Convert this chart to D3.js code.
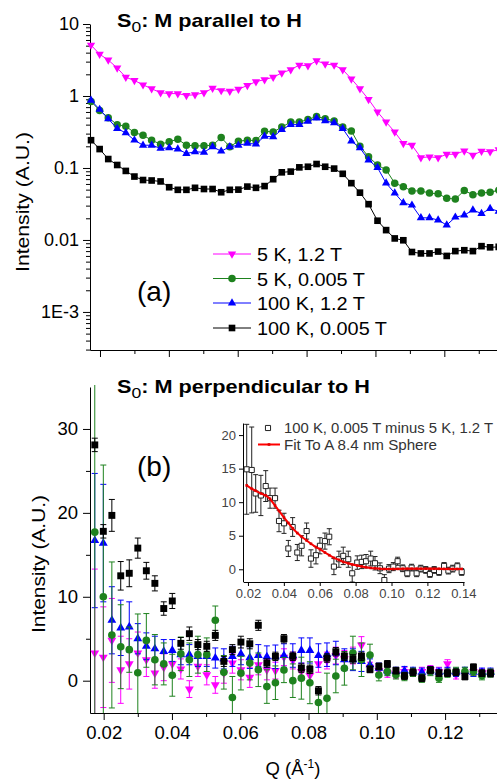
<!DOCTYPE html>
<html><head><meta charset="utf-8">
<script src="https://cdn.jsdelivr.net/npm/d3@7"></script>
<style>body{margin:0;background:#fff}svg{display:block}</style>
</head><body><svg id="c" width="497" height="780"></svg>
<script>
// ---------- DATA ----------
const Q = [0.0174,0.0199,0.0224,0.0250,0.0275,0.0300,0.0325,0.0350,0.0376,0.0401,0.0426,0.0451,0.0476,0.0502,0.0527,0.0552,
0.0577,0.0602,0.0628,0.0653,0.0678,0.0703,0.0728,0.0754,0.0779,0.0804,0.0829,0.0854,0.0880,0.0905,0.0930,0.0955,
0.0980,0.1006,0.1031,0.1056,0.1081,0.1106,0.1132,0.1157,0.1182,0.1207,0.1232,0.1258,0.1283,0.1308,0.1333,0.1358];

const seriesNames = ["5 K, 1.2 T","5 K, 0.005 T","100 K, 1.2 T","100 K, 0.005 T"];

// (a) parallel
const parMagenta = [5.1,3.8,3.16,2.45,1.82,1.64,1.43,1.26,1.11,1.08,1.08,1.02,1.04,1.11,1.28,1.19,
1.17,1.24,1.40,1.58,1.69,1.82,2.09,2.32,2.69,2.63,3.09,2.78,2.69,2.32,1.73,1.26,
0.895,0.60,0.435,0.316,0.219,0.207,0.139,0.143,0.139,0.155,0.155,0.173,0.151,0.171,0.168,0.18];
const parGreen = [0.84,0.63,0.50,0.40,0.38,0.31,0.285,0.243,0.214,0.231,0.251,0.207,0.203,0.203,0.207,0.265,
0.197,0.236,0.243,0.24,0.324,0.316,0.37,0.435,0.435,0.47,0.52,0.484,0.45,0.37,0.327,0.2,
0.143,0.11,0.094,0.0615,0.055,0.048,0.048,0.0448,0.0437,0.038,0.037,0.0486,0.0425,0.0448,0.046,0.049];
const parBlue = [0.87,0.65,0.48,0.352,0.307,0.243,0.207,0.207,0.187,0.19,0.183,0.159,0.168,0.165,0.197,0.171,
0.197,0.207,0.219,0.215,0.276,0.27,0.34,0.40,0.40,0.445,0.494,0.45,0.425,0.352,0.236,0.19,
0.129,0.101,0.0615,0.0448,0.0327,0.0304,0.0203,0.0203,0.0189,0.0161,0.0207,0.0221,0.026,0.0233,0.0272,0.025];
const parBlack = [0.243,0.183,0.133,0.11,0.091,0.076,0.068,0.067,0.065,0.054,0.0497,0.0497,0.053,0.051,0.051,0.046,
0.0497,0.05,0.0551,0.053,0.056,0.0698,0.087,0.089,0.102,0.104,0.1135,0.104,0.098,0.083,0.0615,0.0454,
0.0314,0.0185,0.0137,0.0105,0.0099,0.0068,0.0065,0.0065,0.0069,0.006,0.007,0.0072,0.007,0.0082,0.0079,0.008];

// (b) perpendicular: values and error bars
const perMagenta = [3.3,2.8,4.8,1.3,2.0,3.3,2.5,0.9,1.6,2.0,1.4,-1.0,1.7,0.7,-0.5,0.9,
2.1,1.3,0.4,1.9,1.3,1.2,2.8,2.4,1.1,0.6,2.0,2.4,3.0,2.6,3.0,4.25,
1.6,1.2,0.9,0.8,1.1,1.0,1.1,1.3,1.1,2.0,0.7,0.7,1.1,0.9,0.9];
const perMagentaErr = [10,6,5,4,3,2.5,2,1.8,1.6,1.5,1.2,1.0,1.2,1.2,1.0,1.2,
1.2,1.2,1.2,1.2,1.2,1.0,1.0,1.0,1.0,1.0,1.0,1.0,1.0,1.0,1.0,1.0,
0.6,0.5,0.5,0.5,0.5,0.5,0.5,0.5,0.5,0.5,0.5,0.5,0.5,0.5,0.5];
const perGreen = [17.7,10.0,5.45,4.05,3.7,0.95,4.8,2.5,2.0,0.65,3.2,2.5,3.1,3.1,7.2,1.0,
-2.0,0.9,2.1,1.3,-0.7,-0.24,1.27,0.0,0.3,-0.24,-2.6,-2.1,0.56,1.47,3.3,2.5,
3.05,0.68,1.1,0.7,0.5,1.0,0.3,1.1,0.3,0.9,1.1,1.1,1.1,0.6,0.9];
const perGreenErr = [30,15.7,8.7,5,2.7,7,3.2,3,2.5,2.5,2,2,2.2,2,1.7,2,
2.5,2,2,2,2,2,1.5,2,2.5,2.5,1.5,3,2,2,2,2,
1.3,0.7,0.5,0.5,0.5,0.5,0.5,0.5,0.5,0.5,0.5,0.5,0.5,0.5,0.5];
const perBlue = [16.7,16.4,7.2,6.3,6.4,5.0,4.1,3.8,3.5,3.6,3.1,3.1,2.9,2.9,2.7,2.6,
2.9,3.2,2.75,3.0,2.85,2.85,3.0,3.0,3.6,3.6,3.0,3.1,3.3,2.5,2.5,2.3,
1.9,1.5,1.2,1.1,1.2,1.1,1.0,1.2,1.0,1.1,1.0,1.1,1.0,1.0,1.0];
const perBlueErr = [8,7,4,3.3,3,1.8,1.6,1.5,1.4,1.3,1.2,1.2,1.2,1.2,1.2,1.2,
1.2,1.3,1.3,1.3,1.3,1.4,1.4,1.4,1.5,1.5,1.4,1.4,1.4,1.3,1.3,1.2,
0.7,0.6,0.5,0.5,0.5,0.5,0.5,0.5,0.5,0.5,0.5,0.5,0.5,0.5,0.5];
const perBlack = [28.1,17.8,19.7,12.5,12.8,15.8,13.1,11.6,8.6,9.5,4.45,5.6,4.3,4.1,5.4,2.3,
3.7,4.6,4.4,6.6,2.1,2.9,5.0,2.9,1.5,1.35,-1.2,2.7,3.45,2.9,2.6,2.9,
1.35,1.7,2.0,1.2,0.56,1.0,0.3,1.27,0.9,0.9,1.0,0.5,1.6,0.9,0.9];
const perBlackErr = [0.8,0.8,1.9,1.7,1.6,1.2,1.0,0.9,0.8,0.9,0.7,0.8,0.6,0.6,0.6,0.6,
0.6,0.7,0.6,0.6,0.5,0.5,0.5,0.5,0.5,0.5,0.5,0.5,0.5,0.5,0.5,0.5,
0.4,0.4,0.4,0.4,0.4,0.4,0.4,0.4,0.4,0.4,0.4,0.4,0.4,0.4,0.4];

// inset: difference and sphere fit
const insetQ = [0.0193,0.0221,0.0243,0.0272,0.0299,0.0323,0.0351,0.0373,0.0401,0.0425,0.0449,0.0475,0.0499,0.0527,0.0551,0.0579,
0.0601,0.0629,0.0653,0.0679,0.0707,0.0731,0.0759,0.0781,0.0809,0.0834,0.0858,0.0884,0.0908,0.0936,0.0960,0.0986,
0.1010,0.1034,0.1062,0.1088,0.1112,0.1140,0.1163,0.1191,0.1214,0.1238,0.1265,0.1293,0.1317,0.1341,0.1367,0.1391];
const insetDiff = [14.9,14.8,11.3,11.0,12.4,10.6,10.6,7.2,6.85,3.1,6.3,2.5,3.5,5.7,1.6,2.1,
3.5,4.2,4.85,0.4,1.5,2.0,1.5,-0.6,1.0,1.1,1.2,1.6,0.9,0.15,-1.6,0.1,
0.4,1.2,0.15,-0.6,0.25,-0.6,0.1,-0.1,-0.7,-0.1,-0.4,0.5,-0.2,0.1,0.45,-0.4];
const insetDiffErr = [6.7,6.4,2.8,3.0,2.3,1.5,1.5,1.6,1.5,1.2,1.4,1.2,1.5,1.2,1.3,1.3,
1.2,1.2,1.2,1.2,1.2,1.3,1.2,1.3,1.0,1.0,1.0,1.1,1.0,0.8,0.8,0.6,
0.6,0.6,0.5,0.5,0.5,0.5,0.5,0.5,0.5,0.5,0.5,0.5,0.5,0.5,0.5,0.5];
const insetFit = [12.5,12.0,11.7,11.3,11.0,10.5,9.5,8.7,7.7,6.9,6.1,5.4,4.85,4.3,3.8,3.3,
3.0,2.5,2.1,1.7,1.4,1.1,0.9,0.72,0.55,0.42,0.3,0.2,0.14,0.08,0.05,0.04,
0.05,0.06,0.07,0.08,0.09,0.09,0.09,0.09,0.08,0.08,0.07,0.06,0.06,0.05,0.05,0.05];

// ticks
const parYTicks = [10,1,0.1,0.01,0.001];
const parYLabels = ["10","1","0.1","0.01","1E-3"];
const xMajor = [0.02,0.04,0.06,0.08,0.10,0.12];
const xMinor = [0.03,0.05,0.07,0.09,0.11,0.13];
const xLabels = ["0.02","0.04","0.06","0.08","0.10","0.12"];
const perYTicks = [0,10,20,30];
const perYMinor = [5,15,25];
const insetXTicks = [0.02,0.04,0.06,0.08,0.10,0.12,0.14];
const insetXLabels = ["0.02","0.04","0.06","0.08","0.10","0.12","0.14"];
const insetYTicks = [0,5,10,15,20];

// ---------- DRAW ----------
const FONT = '"Liberation Sans", Arial, Helvetica, sans-serif';
const COL = {mag:"#ff00ff", grn:"#1e821e", blu:"#0000ff", blk:"#000000"};
const svg = d3.select("#c").style("font-family", FONT);

function styleAxis(g, fs, col) {
  g.selectAll("text").attr("font-family", FONT).attr("font-size", fs).attr("fill", col || "#000");
  g.selectAll("line").attr("stroke", "#000");
  g.select(".domain").attr("stroke", "#000");
}
function noDomain(g){ g.select(".domain").remove(); }
function stretch(sel, w){ sel.attr("textLength", w).attr("lengthAdjust","spacingAndGlyphs"); }

const symTri = d3.symbol().type(d3.symbolTriangle);
const symCir = d3.symbol().type(d3.symbolCircle);
const symSq = d3.symbol().type(d3.symbolSquare);

// ===== panel (a) =====
const xA = d3.scaleLinear().domain([0.0171, 0.1353]).range([90, 497]);
const yA = d3.scaleLog().domain([2.96e-4, 10]).range([350, 24]);

const yAminor = [];
[1e-4,1e-3,1e-2,1e-1,1].forEach(dec => { for (let k=2;k<=9;k++){ const v=k*dec; if (v>=2.96e-4 && v<10) yAminor.push(v);} });

let g = svg.append("g").attr("transform","translate(90,0)")
  .call(d3.axisLeft(yA).tickValues(parYTicks).tickFormat((d,i)=>parYLabels[i]).tickSize(7).tickSizeOuter(0).tickPadding(4));
styleAxis(g, 18);
g = svg.append("g").attr("transform","translate(90,0)")
  .call(d3.axisLeft(yA).tickValues(yAminor).tickFormat("").tickSize(4).tickSizeOuter(0));
styleAxis(g, 18); noDomain(g);

g = svg.append("g").attr("transform","translate(0,350)")
  .call(d3.axisBottom(xA).tickValues(xMajor).tickFormat("").tickSize(7).tickSizeOuter(0));
styleAxis(g, 18);
g = svg.append("g").attr("transform","translate(0,350)")
  .call(d3.axisBottom(xA).tickValues(xMinor).tickFormat("").tickSize(4).tickSizeOuter(0));
styleAxis(g, 18); noDomain(g);

const parSeries = [
  {v:parMagenta, c:COL.mag, sym:symTri.size(30)(), rot:180},
  {v:parGreen, c:COL.grn, sym:symCir.size(44)(), rot:0},
  {v:parBlue, c:COL.blu, sym:symTri.size(30)(), rot:0},
  {v:parBlack, c:COL.blk, sym:symSq.size(44)(), rot:0}
];
const lineA = d3.line().x((d,i)=>xA(Q[i])).y(d=>yA(d));
parSeries.forEach(s => {
  svg.append("path").attr("d", lineA(s.v)).attr("fill","none").attr("stroke", s.c).attr("stroke-width",1);
  svg.append("g").selectAll("path").data(s.v).join("path")
    .attr("d", s.sym).attr("fill", s.c)
    .attr("transform",(d,i)=>`translate(${xA(Q[i])},${yA(d)}) rotate(${s.rot})`);
});

// title (a)
let t = svg.append("text").attr("x",117).attr("y",27).attr("font-size",18.5).attr("font-weight","bold").attr("fill","#000");
t.append("tspan").text("S");
t.append("tspan").attr("font-size",15).attr("font-weight","normal").attr("dy",4.5).text("0");
t.append("tspan").attr("dy",-4.5).text(": M parallel to H");
stretch(t, 185);

// y label (a)
t = svg.append("text").attr("transform","translate(29,202) rotate(-90)").attr("text-anchor","middle")
  .attr("font-size",19).attr("fill","#000").text("Intensity (A.U.)");
stretch(t, 140);

// legend (a)
const legY = [254, 278.5, 303, 328];
const legW = [85, 108, 108, 130];
parSeries.forEach((s,i) => {
  svg.append("line").attr("x1",213).attr("x2",251).attr("y1",legY[i]).attr("y2",legY[i]).attr("stroke",s.c).attr("stroke-width",1);
  svg.append("path").attr("d", s.sym).attr("fill", s.c).attr("transform",`translate(232,${legY[i]}) rotate(${s.rot})`);
  const tt = svg.append("text").attr("x",257).attr("y",legY[i]+7).attr("font-size",19).attr("fill","#000").text(seriesNames[i]);
  stretch(tt, legW[i]);
});
svg.append("text").attr("x",137).attr("y",301).attr("font-size",28).attr("fill","#000").text("(a)");

// ===== panel (b) =====
const xB = d3.scaleLinear().domain([0.016, 0.1352]).range([90, 497]);
const yB = d3.scaleLinear().domain([-3.85, 35]).range([713, 387]);

g = svg.append("g").attr("transform","translate(90,0)")
  .call(d3.axisLeft(yB).tickValues(perYTicks).tickSize(7).tickSizeOuter(0).tickPadding(5));
styleAxis(g, 18.5);
g = svg.append("g").attr("transform","translate(90,0)")
  .call(d3.axisLeft(yB).tickValues(perYMinor).tickFormat("").tickSize(4).tickSizeOuter(0));
styleAxis(g, 18); noDomain(g);
g = svg.append("g").attr("transform","translate(0,713)")
  .call(d3.axisBottom(xB).tickValues(xMajor).tickFormat((d,i)=>xLabels[i]).tickSize(7).tickSizeOuter(0).tickPadding(6));
styleAxis(g, 18.5);
g = svg.append("g").attr("transform","translate(0,713)")
  .call(d3.axisBottom(xB).tickValues(xMinor).tickFormat("").tickSize(4).tickSizeOuter(0));
styleAxis(g, 18); noDomain(g);

svg.append("clipPath").attr("id","clipB").append("rect").attr("x",84).attr("y",385).attr("width",413).attr("height",328);
const gB = svg.append("g").attr("clip-path","url(#clipB)");
const perSeries = [
  {v:perMagenta, e:perMagentaErr, c:COL.mag, sym:symTri.size(34)(), rot:180},
  {v:perBlue, e:perBlueErr, c:COL.blu, sym:symTri.size(34)(), rot:0},
  {v:perGreen, e:perGreenErr, c:COL.grn, sym:symCir.size(46)(), rot:0},
  {v:perBlack, e:perBlackErr, c:COL.blk, sym:symSq.size(48)(), rot:0}
];
perSeries.forEach(s => {
  const ge = gB.append("g").attr("stroke", s.c).attr("stroke-width",1);
  s.v.forEach((v,i) => {
    const x = xB(Q[i]), y1 = yB(v - s.e[i]), y2 = yB(v + s.e[i]);
    ge.append("line").attr("x1",x).attr("x2",x).attr("y1",y1).attr("y2",y2);
    ge.append("line").attr("x1",x-3).attr("x2",x+3).attr("y1",y1).attr("y2",y1);
    ge.append("line").attr("x1",x-3).attr("x2",x+3).attr("y1",y2).attr("y2",y2);
  });
  gB.append("g").selectAll("path").data(s.v).join("path")
    .attr("d", s.sym).attr("fill", s.c)
    .attr("transform",(d,i)=>`translate(${xB(Q[i])},${yB(d)}) rotate(${s.rot})`);
});

t = svg.append("text").attr("x",117).attr("y",393).attr("font-size",18.5).attr("font-weight","bold").attr("fill","#000");
t.append("tspan").text("S");
t.append("tspan").attr("font-size",15).attr("font-weight","normal").attr("dy",4.5).text("0");
t.append("tspan").attr("dy",-4.5).text(": M perpendicular to H");
stretch(t, 253);

t = svg.append("text").attr("transform","translate(45,564) rotate(-90)").attr("text-anchor","middle")
  .attr("font-size",19).attr("fill","#000").text("Intensity (A.U.)");
stretch(t, 138);

svg.append("text").attr("x",137).attr("y",476).attr("font-size",28).attr("fill","#000").text("(b)");

t = svg.append("text").attr("x",293).attr("y",775).attr("text-anchor","middle").attr("font-size",18.5).attr("fill","#000");
t.append("tspan").text("Q (Å");
t.append("tspan").attr("font-size",12).attr("dy",-7).text("-1");
t.append("tspan").attr("dy",7).text(")");

// ===== inset =====
const xI = d3.scaleLinear().domain([0.0174, 0.1404]).range([243.3, 464]);
const yI = d3.scaleLinear().domain([-1.85, 21.8]).range([581.7, 423]);

g = svg.append("g").attr("transform","translate(243,0)")
  .call(d3.axisLeft(yI).tickValues(insetYTicks).tickSize(4).tickSizeOuter(0).tickPadding(3));
styleAxis(g, 13, "#444");
g = svg.append("g").attr("transform","translate(0,582)")
  .call(d3.axisBottom(xI).tickValues(insetXTicks).tickFormat((d,i)=>insetXLabels[i]).tickSize(4).tickSizeOuter(0).tickPadding(3));
styleAxis(g, 13, "#444");

svg.append("clipPath").attr("id","clipI").append("rect").attr("x",238).attr("y",421).attr("width",240).attr("height",161);
const gI = svg.append("g").attr("clip-path","url(#clipI)");
const gIe = gI.append("g").attr("stroke","#222").attr("stroke-width",1);
insetDiff.forEach((v,i) => {
  const x = xI(insetQ[i]), y1 = yI(v - insetDiffErr[i]), y2 = yI(v + insetDiffErr[i]);
  gIe.append("line").attr("x1",x).attr("x2",x).attr("y1",y1).attr("y2",y2);
  gIe.append("line").attr("x1",x-2.5).attr("x2",x+2.5).attr("y1",y1).attr("y2",y1);
  gIe.append("line").attr("x1",x-2.5).attr("x2",x+2.5).attr("y1",y2).attr("y2",y2);
});
gI.append("g").selectAll("path").data(insetDiff).join("path")
  .attr("d", symSq.size(26)()).attr("fill","#fff").attr("stroke","#222").attr("stroke-width",1)
  .attr("transform",(d,i)=>`translate(${xI(insetQ[i])},${yI(d)})`);
const lineI = d3.line().x((d,i)=>xI(insetQ[i])).y(d=>yI(d));
gI.append("path").attr("d", lineI(insetFit)).attr("fill","none").attr("stroke","#ff0000").attr("stroke-width",2);
gI.append("g").selectAll("path").data(insetFit).join("path")
  .attr("d", symSq.size(7)()).attr("fill","#e00000")
  .attr("transform",(d,i)=>`translate(${xI(insetQ[i])},${yI(d)})`);

// inset legend
svg.append("path").attr("d", symSq.size(26)()).attr("fill","#fff").attr("stroke","#222").attr("transform","translate(268,428)");
t = svg.append("text").attr("x",284).attr("y",433).attr("font-size",14).attr("fill","#333").text("100 K, 0.005 T minus 5 K, 1.2 T");
stretch(t, 209);
svg.append("line").attr("x1",258).attr("x2",280).attr("y1",444.5).attr("y2",444.5).attr("stroke","#ff0000").attr("stroke-width",2);
svg.append("path").attr("d", symSq.size(7)()).attr("fill","#e00000").attr("transform","translate(269,444.5)");
t = svg.append("text").attr("x",284).attr("y",450).attr("font-size",14).attr("fill","#333").text("Fit To A 8.4 nm Sphere");
stretch(t, 153);
</script>
</body></html>
